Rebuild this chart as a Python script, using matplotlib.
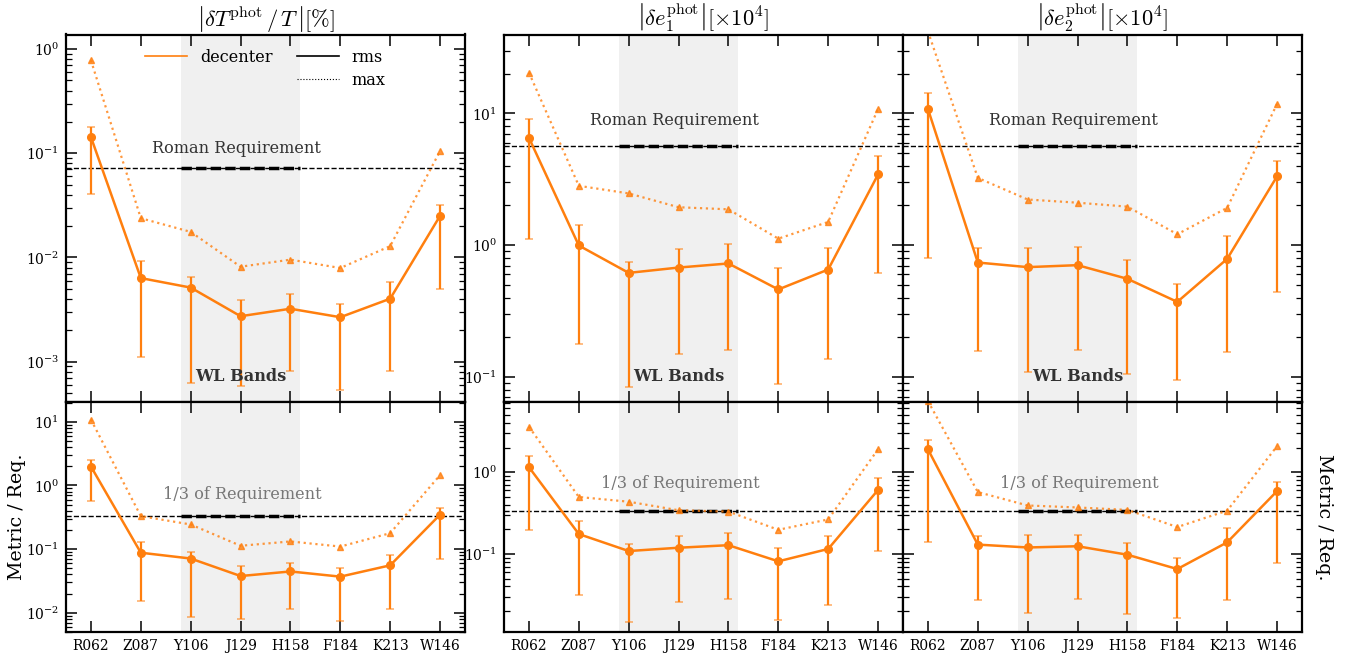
import numpy as np
import matplotlib.pyplot as plt
from matplotlib.lines import Line2D

plt.rcParams['font.family'] = 'DejaVu Serif'
plt.rcParams['mathtext.fontset'] = 'dejavuserif'

bands = ['R062', 'Z087', 'Y106', 'J129', 'H158', 'F184', 'K213', 'W146']

# |dT/T| [%]
dT_rms = [0.143, 0.00634, 0.00514, 0.00273, 0.00322, 0.00267, 0.00402, 0.0251]
dT_lo = [0.0407, 0.00112, 0.000625, 0.00058, 0.000817, 0.000531, 0.000817, 0.00502]
dT_hi = [0.179, 0.00925, 0.00648, 0.0039, 0.00443, 0.0036, 0.00583, 0.0318]
dT_max = [0.78, 0.0238, 0.0176, 0.00815, 0.00953, 0.00792, 0.01285, 0.105]
dT_req = 0.0722

# |de1| [x1e4]
e1_rms = [6.53, 0.994, 0.616, 0.676, 0.726, 0.461, 0.653, 3.44]
e1_lo = [1.11, 0.179, 0.084, 0.148, 0.161, 0.089, 0.136, 0.610]
e1_hi = [9.05, 1.42, 0.747, 0.938, 1.02, 0.676, 0.948, 4.77]
e1_max = [20.4, 2.82, 2.47, 1.94, 1.87, 1.12, 1.50, 10.8]
e1_req = 5.68

# |de2| [x1e4]
e2_rms = [10.8, 0.738, 0.681, 0.705, 0.555, 0.371, 0.787, 3.33]
e2_lo = [0.796, 0.157, 0.109, 0.160, 0.106, 0.094, 0.154, 0.443]
e2_hi = [14.2, 0.944, 0.955, 0.970, 0.774, 0.508, 1.17, 4.32]
e2_max = [42.0, 3.24, 2.22, 2.10, 1.96, 1.21, 1.92, 11.8]
e2_req = 5.68

titles = [r'$\left|\delta T^{\rm phot}\,/\,T\,\right|[\%]$',
          r'$\left|\delta e_1^{\rm phot}\right|[\times 10^4]$',
          r'$\left|\delta e_2^{\rm phot}\right|[\times 10^4]$']

panels = [(dT_rms, dT_lo, dT_hi, dT_max, dT_req),
          (e1_rms, e1_lo, e1_hi, e1_max, e1_req),
          (e2_rms, e2_lo, e2_hi, e2_max, e2_req)]

top_ylims = [(4.1e-4, 1.38), (0.0645, 39.7), (0.0645, 39.7)]
bot_ylims = [(0.005, 20.4), (0.0111, 7.2), (0.0111, 7.2)]

c = '#ff7f0e'
W, H = 1362, 663
fig = plt.figure(figsize=(W / 100, H / 100), dpi=100)

lefts = [66, 504, 903]
pw = 399
y_top, y_mid, y_bot = 34.5, 402, 632

x = np.arange(len(bands))
axes_top, axes_bot = [], []
for i, (rms, lo, hi, mx, req) in enumerate(panels):
    l = lefts[i] / W
    kw_t, kw_b = {}, {}
    if i == 2:
        kw_t['sharey'] = axes_top[1]
        kw_b['sharey'] = axes_bot[1]
    at = fig.add_axes([l, 1 - y_mid / H, pw / W, (y_mid - y_top) / H], **kw_t)
    ab = fig.add_axes([l, 1 - y_bot / H, pw / W, (y_bot - y_mid) / H], sharex=at, **kw_b)
    axes_top.append(at)
    axes_bot.append(ab)

    rms = np.array(rms); lo = np.array(lo); hi = np.array(hi); mx = np.array(mx)
    for ax, scale, line_lbl, ylim in [(at, 1.0, 'Roman Requirement', top_ylims[i]),
                                     (ab, req, '1/3 of Requirement', bot_ylims[i])]:
        ax.axvspan(1.8, 4.2, color='#f0f0f0', zorder=0, lw=0)
        lvl = req if ax is at else 1 / 3
        ax.axhline(lvl, color='k', ls='--', lw=1, zorder=1)
        ax.plot([1.8, 4.2], [lvl, lvl], color='k', ls='--', lw=2.5,
                dashes=(3, 1.2), zorder=1)
        eb = ax.errorbar(x, rms / scale, yerr=[(rms - lo) / scale, (hi - rms) / scale],
                         color=c, marker='o', ms=5.5, lw=1.8, elinewidth=1.6,
                         capsize=3, capthick=1.2, zorder=3)
        for cap in eb[1]:
            cap.set_alpha(0.6)
        ax.plot(x, mx / scale, color=c, ls=':', lw=1.6, marker='^', ms=5,
                alpha=0.8, zorder=2)
        ax.set_yscale('log')
        ax.set_ylim(*ylim)
        ax.set_xlim(-0.5, 7.5)
        if ax is at:
            ax.text(4.62, lvl * 1.55, line_lbl, ha='right', va='center',
                    fontsize=11.6, color='#333333')
            ax.text(3, 0.07, 'WL Bands', ha='center', va='center', fontsize=11.6,
                    fontweight='bold', color='#333333',
                    transform=ax.get_xaxis_transform())
        else:
            ax.text(4.62, lvl * 2.15, line_lbl, ha='right', va='center',
                    fontsize=11.6, color='#777777')
        ax.tick_params(which='both', direction='in', top=True, right=True)
        ax.tick_params(which='major', length=8, width=1.1, labelsize=10, pad=5)
        ax.tick_params(which='minor', length=4, width=0.9)
        for s in ax.spines.values():
            s.set_linewidth(1.6)

    at.set_title(titles[i], fontsize=16.2, math_fontfamily='cm', pad=5)
    at.tick_params(labelbottom=False)
    ab.set_xticks(x)
    ab.set_xticklabels(bands)
    if i == 2:
        at.tick_params(labelleft=False)
        ab.tick_params(labelleft=False)

axes_bot[0].set_ylabel('Metric / Req.', fontsize=13.7, labelpad=0)
axes_bot[2].yaxis.set_label_position('right')
axes_bot[2].set_ylabel('Metric / Req.', fontsize=13.7, rotation=270, labelpad=22)

handles = [Line2D([], [], color=c, lw=1.2, label='decenter'),
           Line2D([], [], color='none', label=' '),
           Line2D([], [], color='k', lw=1.2, label='rms'),
           Line2D([], [], color='k', lw=0.8, ls=':', label='max')]
axes_top[0].legend(handles=handles, ncol=2, loc='upper center', frameon=False,
                   fontsize=11.6, handlelength=2.6, columnspacing=1.5,
                   handletextpad=0.8, labelspacing=0.35)

fig.savefig('out.png', dpi=100)
